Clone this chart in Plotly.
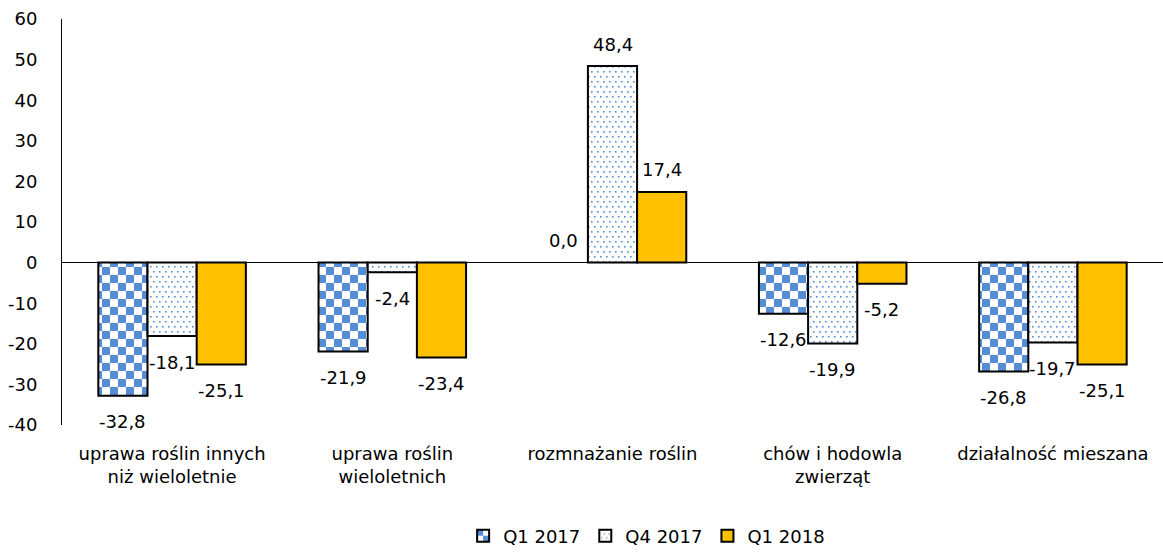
import plotly.graph_objects as go

categories = [
    "uprawa roślin innych<br>niż wieloletnie",
    "uprawa roślin<br>wieloletnich",
    "rozmnażanie roślin",
    "chów i hodowla<br>zwierząt",
    "działalność mieszana",
]
series_names = ["Q1 2017", "Q4 2017", "Q1 2018"]
q1_2017 = [-32.8, -21.9, 0.0, -12.6, -26.8]
q4_2017 = [-18.1, -2.4, 48.4, -19.9, -19.7]
q1_2018 = [-25.1, -23.4, 17.4, -5.2, -25.1]
y_ticks = [-40, -30, -20, -10, 0, 10, 20, 30, 40, 50, 60]

FONT = "DejaVu Sans"
BLUE = "#558ED5"
GOLD = "#FFC000"

series_values = [q1_2017, q4_2017, q1_2018]
patterns = [
    dict(shape="+", fgcolor=BLUE, bgcolor="white", size=16, solidity=0.5, fillmode="replace"),
    dict(shape=".", fgcolor=BLUE, bgcolor="white", size=6, solidity=0.12, fillmode="replace"),
    None,
]
fills = ["white", "white", GOLD]

fig = go.Figure()
for name, vals, pat, fc in zip(series_names, series_values, patterns, fills):
    marker = dict(color=fc,
                  line=dict(color="black", width=[0 if v == 0 else 2 for v in vals]))
    if pat is not None:
        marker["pattern"] = pat
    fig.add_trace(go.Bar(name=name, x=categories, y=vals, marker=marker,
                         hoverinfo="skip"))

# data labels as annotations, offset from the bar ends
n_series = len(series_values)
group_frac = 1 - 0.33
bar_w = group_frac / n_series
for si, vals in enumerate(series_values):
    for ci, v in enumerate(vals):
        xpos = ci - group_frac / 2 + bar_w * (si + 0.5)
        shift = 22 if v >= 0 else -26
        fig.add_annotation(x=xpos, y=v, xref="x", yref="y",
                           text=f"{v:.1f}".replace(".", ","),
                           showarrow=False, yshift=shift,
                           font=dict(family=FONT, size=18, color="black"))

fig.update_layout(
    width=1163, height=552,
    margin=dict(l=62, r=0, t=19, b=127),
    barmode="group", bargap=0.33, bargroupgap=0,
    plot_bgcolor="white", paper_bgcolor="white",
    font=dict(family=FONT, size=18, color="black"),
    showlegend=True,
    legend=dict(orientation="h", xref="container", x=0.556, xanchor="center",
                yref="container", y=0.029, yanchor="middle",
                font=dict(family=FONT, size=18, color="black"),
                itemclick=False),
)
fig.update_yaxes(range=[-40, 60], tickvals=y_ticks,
                 ticktext=[str(t) for t in y_ticks], showgrid=False,
                 zeroline=True, zerolinecolor="black", zerolinewidth=1,
                 showline=True, linecolor="black", linewidth=1,
                 ticks="", ticklabelstandoff=20)
fig.update_xaxes(range=[-0.5, 4.5], showgrid=False, showline=False, ticks="",
                 zeroline=False, ticklabelstandoff=16, tickangle=0)

post_js = """
document.body.style.margin = '0';
document.body.style.padding = '0';
var gd = document.getElementById('{plot_id}');
function fixPatterns() {
  var NS = 'http://www.w3.org/2000/svg';
  document.querySelectorAll('pattern').forEach(function (p) {
    if (p.getAttribute('data-fixed')) return;
    var isDots = p.querySelector('circle') !== null;
    var isChecker = !isDots && p.querySelector('path') !== null;
    if (!isDots && !isChecker) return;
    while (p.firstChild) p.removeChild(p.firstChild);
    function rect(x, y, w, h, fill) {
      var r = document.createElementNS(NS, 'rect');
      r.setAttribute('x', x); r.setAttribute('y', y);
      r.setAttribute('width', w); r.setAttribute('height', h);
      r.setAttribute('fill', fill);
      p.appendChild(r);
    }
    if (isChecker) {
      p.setAttribute('width', 16); p.setAttribute('height', 16);
      rect(0, 0, 16, 16, 'white');
      rect(0, 0, 8, 8, '""" + BLUE + """');
      rect(8, 8, 8, 8, '""" + BLUE + """');
    } else {
      p.setAttribute('width', 6); p.setAttribute('height', 10);
      rect(0, 0, 6, 10, 'white');
      rect(1, 2, 1.6, 1.6, '""" + BLUE + """');
      rect(4, 7, 1.6, 1.6, '""" + BLUE + """');
    }
    p.setAttribute('data-fixed', '1');
  });
}
fixPatterns();
if (gd && gd.on) gd.on('plotly_afterplot', function () { setTimeout(fixPatterns, 0); });
setTimeout(fixPatterns, 50);
setTimeout(fixPatterns, 300);
"""

fig.write_html("out.html", post_script=post_js,
               config={"displayModeBar": False, "staticPlot": True})
